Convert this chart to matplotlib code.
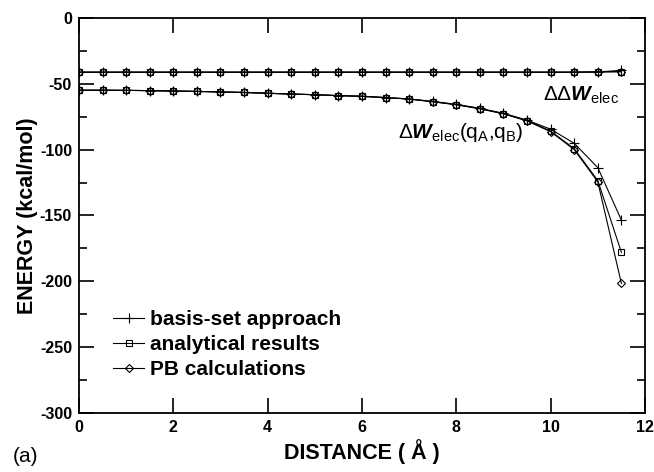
import matplotlib
matplotlib.use("Agg")
import matplotlib.pyplot as plt
import numpy as np

plt.rcParams['font.family'] = ['Liberation Sans', 'DejaVu Sans']
plt.rcParams['font.weight'] = 'bold'
plt.rcParams['axes.unicode_minus'] = False
plt.rcParams['mathtext.fontset'] = 'custom'
plt.rcParams['mathtext.rm'] = 'Liberation Sans:normal'
plt.rcParams['mathtext.it'] = 'Liberation Sans:bold:italic'
plt.rcParams['mathtext.bf'] = 'Liberation Sans:bold'

distance = [0, 0.5, 1, 1.5, 2, 2.5, 3, 3.5, 4, 4.5, 5, 5.5, 6, 6.5, 7, 7.5,
            8, 8.5, 9, 9.5, 10, 10.5, 11, 11.5]

# delta-W_elec(qA,qB)
basis_w = [-54.9, -54.9, -55.0, -55.2, -55.5, -55.8, -56.2, -56.6, -57.2, -57.8,
           -58.3, -59.0, -59.5, -60.5, -61.5, -63.4, -65.6, -68.6, -72.4, -77.6,
           -84.5, -95.2, -113.7, -153.5]
analytic_w = [-54.9, -54.9, -55.0, -55.2, -55.5, -55.8, -56.2, -56.6, -57.2, -57.8,
              -58.3, -59.0, -59.5, -60.5, -61.6, -63.6, -65.9, -68.9, -72.7, -78.0,
              -85.9, -99.3, -123.5, -178.0]
pb_w = [-54.9, -54.9, -55.0, -55.2, -55.5, -55.8, -56.2, -56.6, -57.2, -57.8,
        -58.3, -59.0, -59.5, -60.5, -61.6, -63.6, -65.9, -69.0, -72.8, -78.2,
        -86.4, -100.0, -124.5, -201.6]

# delta-delta-W_elec
basis_dd = [-41.2] * 22 + [-41.0, -39.8]
analytic_dd = [-41.2] * 22 + [-41.0, -40.8]
pb_dd = [-41.2] * 22 + [-41.0, -40.8]

fig = plt.figure(figsize=(6.54, 4.72), dpi=100)
ax = fig.add_axes([0.1208, 0.125, 0.8654, 0.837])

base = dict(color='black', lw=0.8, markeredgewidth=0.8, markerfacecolor='none')
ax.plot(distance, basis_w, marker='+', markersize=7, label='basis-set approach', **base)
ax.plot(distance, analytic_w, marker='s', markersize=5, label='analytical results', **base)
ax.plot(distance, pb_w, marker='D', markersize=4.5, label='PB calculations', **base)
ax.plot(distance, basis_dd, marker='+', markersize=7, **base)
ax.plot(distance, analytic_dd, marker='s', markersize=5, **base)
ax.plot(distance, pb_dd, marker='D', markersize=4.5, **base)

ax.set_xlim(0, 12)
ax.set_ylim(-300, 0)
ax.set_xticks(np.arange(0, 13, 2))
ax.set_yticks(np.arange(-300, 1, 50))
ax.set_yticks(np.arange(-275, 0, 50), minor=True)
ax.tick_params(which='major', direction='in', length=11, width=1.2,
               top=True, right=True, labelsize=11.5, pad=5)
ax.tick_params(which='minor', direction='in', length=6, width=1.2,
               top=False, right=True)
for s in ax.spines.values():
    s.set_linewidth(1.3)

ax.set_xlabel('DISTANCE ( Å )', fontsize=15.5, fontweight='bold', labelpad=3)
ax.set_ylabel('ENERGY (kcal/mol)', fontsize=15.5, fontweight='bold', labelpad=1)

ax.text(9.83, -62.8, r'$\Delta\Delta W_{\rm elec}$', fontsize=15)
ax.text(6.76, -91.2, r'$\Delta W_{\rm elec}({\rm q_A{,}q_B})$', fontsize=15)

leg = ax.legend(loc='lower left', bbox_to_anchor=(0.06, 0.085), frameon=False,
                borderpad=0, borderaxespad=0,
                handlelength=1.5, handletextpad=0.3, labelspacing=0.3,
                prop={'weight': 'bold', 'size': 15})

fig.text(0.02, 0.022, '(a)', fontsize=15, fontweight='normal')

fig.savefig('out.png', dpi=100)
